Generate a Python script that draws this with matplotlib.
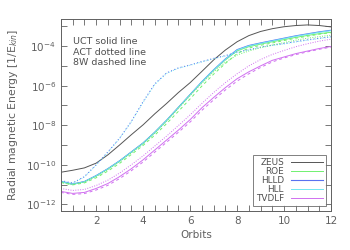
import numpy as np
import matplotlib
matplotlib.use('Agg')
import matplotlib.pyplot as plt
from matplotlib.ticker import MultipleLocator, FixedLocator, LogFormatterSciNotation, NullFormatter

orbits = [0.5, 1.0, 1.5, 2.0, 2.5, 3.0, 3.5, 4.0, 4.5, 5.0, 5.5, 6.0,
          6.5, 7.0, 7.5, 8.0, 8.5, 9.0, 9.5, 10.0, 10.5, 11.0, 11.5, 12.0]

# log10 of radial magnetic energy
zeus_uct = [-10.38, -10.28, -10.16, -9.92, -9.5, -9.0, -8.48, -7.98, -7.42, -6.9, -6.35, -5.85,
            -5.28, -4.7, -4.2, -3.78, -3.47, -3.26, -3.12, -3.02, -2.96, -2.93, -2.96, -3.03]
hlld_uct = [-10.85, -10.98, -10.85, -10.55, -10.2, -9.8, -9.35, -8.9, -8.35, -7.75, -7.1, -6.45,
            -5.8, -5.2, -4.65, -4.18, -3.97, -3.84, -3.72, -3.6, -3.48, -3.38, -3.28, -3.2]
roe_uct = [-10.85, -10.98, -10.86, -10.56, -10.21, -9.81, -9.36, -8.9, -8.36, -7.76, -7.11, -6.46,
           -5.82, -5.23, -4.7, -4.24, -4.03, -3.9, -3.78, -3.67, -3.56, -3.46, -3.37, -3.3]
hll_uct = [-10.86, -10.99, -10.86, -10.56, -10.21, -9.81, -9.36, -8.91, -8.36, -7.76, -7.11, -6.46,
           -5.81, -5.21, -4.67, -4.2, -3.99, -3.86, -3.74, -3.62, -3.5, -3.4, -3.3, -3.22]
tvdlf_uct = [-11.35, -11.45, -11.4, -11.2, -10.95, -10.6, -10.2, -9.75, -9.25, -8.75, -8.25, -7.72,
             -7.12, -6.6, -6.1, -5.65, -5.3, -5.0, -4.72, -4.55, -4.38, -4.25, -4.12, -4.02]

hlld_act = [-10.8, -10.92, -10.6, -10.0, -9.35, -8.65, -7.8, -6.8, -5.9, -5.35, -5.1, -4.95,
            -4.78, -4.62, -4.48, -4.3, -4.18, -4.05, -3.95, -3.87, -3.77, -3.68, -3.6, -3.52]
hll_act = [-10.82, -10.94, -10.62, -10.02, -9.37, -8.67, -7.83, -6.84, -5.94, -5.38, -5.12, -4.97,
           -4.8, -4.64, -4.5, -4.32, -4.2, -4.07, -3.97, -3.89, -3.79, -3.7, -3.62, -3.54]
roe_act = [-10.9, -11.0, -10.88, -10.6, -10.25, -9.85, -9.4, -8.95, -8.4, -7.8, -7.15, -6.5,
           -5.88, -5.3, -4.82, -4.45, -4.25, -4.08, -3.94, -3.82, -3.7, -3.6, -3.52, -3.45]
tvdlf_act = [-11.2, -11.3, -11.25, -11.05, -10.78, -10.42, -10.0, -9.55, -9.05, -8.55, -8.02, -7.48,
             -6.9, -6.35, -5.85, -5.4, -5.0, -4.68, -4.42, -4.22, -4.03, -3.88, -3.75, -3.65]

roe_8w = [-10.9, -11.02, -10.92, -10.66, -10.32, -9.93, -9.48, -9.02, -8.5, -7.92, -7.3, -6.67,
          -6.02, -5.42, -4.88, -4.38, -4.1, -3.96, -3.84, -3.72, -3.6, -3.5, -3.4, -3.32]
tvdlf_8w = [-11.4, -11.5, -11.46, -11.28, -11.04, -10.7, -10.3, -9.86, -9.36, -8.86, -8.36, -7.84,
            -7.25, -6.72, -6.22, -5.77, -5.4, -5.08, -4.8, -4.6, -4.43, -4.29, -4.16, -4.05]

colors = {'ZEUS': '#555555', 'ROE': '#70f070', 'HLLD': '#5a72f0',
          'HLL': '#70e8f0', 'TVDLF': '#d070f0'}

grey = '#606060'
plt.rcParams['font.family'] = ['DejaVu Sans']
plt.rcParams['font.size'] = 6.5

fig = plt.figure(figsize=(3.5, 2.5), dpi=100)
ax = fig.add_axes([0.174, 0.156, 0.772, 0.768])

x = np.array(orbits)
def draw(vals, name, ls, lw=0.7, label=None):
    ax.plot(x, 10.0 ** np.array(vals), color=colors[name], ls=ls, lw=lw, label=label)

draw(zeus_uct, 'ZEUS', '-', label='ZEUS')
draw(roe_uct, 'ROE', '-', label='ROE')
draw(hlld_uct, 'HLLD', '-', lw=0.8, label='HLLD')
draw(hll_uct, 'HLL', '-', label='HLL')
draw(tvdlf_uct, 'TVDLF', '-', label='TVDLF')
draw(hll_act, 'HLL', (0, (1, 1.5)))
draw(hlld_act, 'HLLD', (0, (1, 2.5)))
draw(roe_act, 'ROE', (0, (1, 1.5)))
draw(tvdlf_act, 'TVDLF', (0, (1, 1.5)))
draw(roe_8w, 'ROE', (0, (3, 3)))
draw(tvdlf_8w, 'TVDLF', (0, (3, 3)))

ax.set_yscale('log')
ax.set_xlim(0.5, 12)
ax.set_ylim(10 ** -12.34, 10 ** -2.63)
ax.xaxis.set_major_locator(MultipleLocator(2))
ax.xaxis.set_minor_locator(MultipleLocator(0.5))
ax.yaxis.set_major_locator(FixedLocator([1e-12, 1e-10, 1e-8, 1e-6, 1e-4]))
ax.yaxis.set_major_formatter(LogFormatterSciNotation())
ax.yaxis.set_minor_locator(FixedLocator([1e-13, 1e-11, 1e-9, 1e-7, 1e-5, 1e-3]))
ax.yaxis.set_minor_formatter(NullFormatter())

for s in ax.spines.values():
    s.set_color(grey)
    s.set_linewidth(0.7)
ax.tick_params(which='both', direction='in', top=True, right=True,
               color=grey, width=0.6, labelcolor=grey, labelsize=7.5)
ax.tick_params(which='major', length=4)
ax.tick_params(which='minor', length=4)

ax.set_xlabel('Orbits', color=grey, fontsize=7.5, labelpad=3)
ax.set_ylabel('Radial magnetic Energy [1/E$_{kin}$]', color=grey, fontsize=7.8, labelpad=4)

ax.text(0.045, 0.905, 'UCT solid line\nACT dotted line\n8W dashed line', transform=ax.transAxes,
        color='#505050', fontsize=6.8, va='top', linespacing=1.2)

leg = ax.legend(loc='lower right', markerfirst=False, fontsize=6.4, frameon=True,
                fancybox=False, edgecolor=grey, handlelength=3.6, handletextpad=0.8,
                labelspacing=0.0, borderpad=0.3, borderaxespad=0.6)
leg.get_frame().set_linewidth(0.7)
for t in leg.get_texts():
    t.set_color('#505050')

fig.savefig('out.png', dpi=100)
